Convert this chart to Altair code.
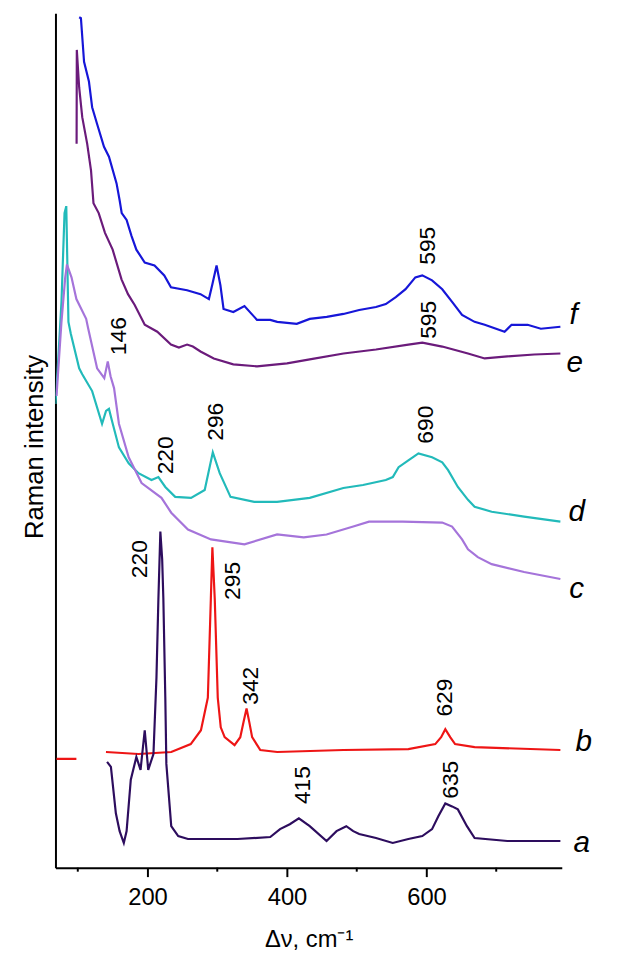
import altair as alt
import pandas as pd

# ---- axis ranges ----
x_domain = [68, 794]
y_domain = [0, 864]

# ---- spectra (Raman shift, intensity in arb. units incl. vertical offset) ----
f_wn = [102, 104.5, 109, 116, 120.6, 127.7, 137.6, 144.7, 155.6, 160, 163, 170, 177, 184, 196, 210, 224, 233.6, 256.7, 276,
        288, 293, 299, 304.5, 309, 323, 339, 357, 376, 386, 414, 432.6, 457, 481, 503.5, 527.6, 541.7, 556, 570, 584,
        594, 608, 622.6, 637, 651, 669, 683.5, 712, 722, 745, 764, 792]
f_int = [860, 859, 815, 795, 769, 752, 729, 719, 692, 675, 662, 655, 639, 625, 612, 609, 599, 587, 584, 580,
         575, 590, 609, 589, 565, 562, 568, 554, 554, 552, 550, 555, 557, 560, 564, 567, 570, 577, 585, 597,
         599, 594, 585, 572, 559, 552, 549, 542, 549, 549, 545, 547]

e_wn = [98.3, 98.6, 102, 106.4, 113.5, 119, 122.5, 130, 139, 150, 162.7, 172, 181.6, 196, 214, 233.6, 245, 256.7, 265, 276,
        295, 323, 357, 400, 432.6, 481, 527.6, 574, 594, 622.6, 659.5, 683.5, 716, 754.5, 792]
e_int = [732, 827, 789, 759, 732, 705, 672, 662, 642, 625, 595, 580, 569, 549, 542, 529, 526, 529, 527, 522,
         515, 509, 507, 510, 514, 520, 524, 529, 531, 527, 520, 515, 517, 519, 520]

d_wn = [68, 71, 76.6, 81, 83.5, 86.6, 90, 102, 106.4, 120.6, 134.8, 140.5, 144.7, 149, 159, 173, 187, 205.7, 215.6, 225.5,
        239.7, 262.4, 282, 293.6, 303.5, 319, 353, 385.8, 432.6, 480.8, 509, 541.7, 551.7, 560, 574, 588.5, 608, 622.6, 631, 645,
        659.5, 669, 693.5, 740, 792]
d_int = [469, 502, 572, 662, 669, 552, 540, 505, 499, 482, 449, 462, 464, 452, 425, 409, 399, 392, 395, 385,
         375, 374, 382, 420, 399, 375, 370, 370, 374, 384, 387, 392, 395, 405, 412, 419, 415, 410, 402, 385,
         372, 365, 360, 355, 350]

c_wn = [69.5, 76.6, 82, 84.5, 91, 98, 112, 115, 127.7, 138, 143, 147, 152, 159, 173, 191.5, 220, 234, 258, 291,
        339, 385.8, 424, 456.7, 495, 517.6, 565.8, 622.6, 636.7, 651, 659.5, 673.6, 693.5, 740, 792]
c_int = [477, 552, 597, 610, 597, 575, 555, 545, 505, 495, 512, 497, 485, 449, 415, 389, 374, 359, 342, 332,
         327, 337, 334, 337, 345, 350, 350, 349, 345, 332, 322, 314, 307, 299, 292]

b_wn = [140.4, 187, 234, 262, 276.6, 282, 286.5, 290.8, 293, 296.4, 300.7, 305, 310.6, 324.8, 333, 337.6, 342, 346, 350, 361.7,
        386, 481, 574, 612.6, 621, 627, 634, 641, 669, 792]
b_int = [117, 115, 117, 125, 139, 157, 172, 272, 324, 272, 172, 142, 132, 124, 132, 147, 161, 147, 132, 119,
         117, 119, 120, 125, 132, 140, 132, 125, 122, 119]

a_wn = [142, 147.5, 154.6, 160, 166, 170, 176, 184, 190, 196, 201, 208.5, 212.8, 215.6, 218.4, 221, 222.7, 225.5, 227, 234,
        244, 258, 329, 376, 390, 404, 417, 432.6, 456.7, 471, 485, 495, 503.5, 527.6, 551.6, 574, 594, 608, 617, 627,
        636.7, 645, 658, 669, 716, 792]
a_int = [107, 102, 55, 37, 25, 37, 89, 112, 99, 139, 99, 115, 192, 272, 340, 312, 272, 172, 105, 42,
         32, 29, 29, 31, 39, 44, 50, 42, 27, 37, 42, 37, 34, 30, 25, 29, 32, 39, 52, 65,
         62, 59, 42, 30, 27, 27]

# baseline marker of spectrum b at the left axis
bdash_wn = [69.5, 98]
bdash_int = [110, 110]

series_names = ["a", "b", "c", "d", "e", "f", "b0"]
series_colors = ["#2D0D5E", "#EE1515", "#A574DA", "#22BABA", "#6B1B7B", "#1616D8", "#EE1515"]
series_data = {
    "f": (f_wn, f_int), "e": (e_wn, e_int), "d": (d_wn, d_int), "c": (c_wn, c_int),
    "b": (b_wn, b_int), "a": (a_wn, a_int), "b0": (bdash_wn, bdash_int),
}

# ---- peak annotations ----
peak_text = ["595", "595", "690", "296", "220", "146", "220", "295", "342", "629", "415", "635"]
peak_wn = [603, 604, 600, 298.5, 226, 159, 189, 322, 348, 627, 423, 635]
peak_int = [629, 554, 448, 451, 417, 537.5, 312, 290, 184, 172, 83.5, 89]

# ---- curve labels ----
lab_text = ["f", "e", "d", "c", "b", "a"]
lab_wn = [811, 812.6, 815.5, 815.5, 825.5, 822.6]
lab_int = [559, 510, 360, 282, 127, 25]

minor_ticks = [100, 300, 500, 700]

rows = []
for name in ["f", "e", "d", "c", "b", "a", "b0"]:
    xs_, ys_ = series_data[name]
    for i, (x, y) in enumerate(zip(xs_, ys_)):
        rows.append({"series": name, "wn": x, "I": y, "idx": i})
df = pd.DataFrame(rows)

xs = alt.Scale(domain=x_domain, nice=False, zero=False)
ys = alt.Scale(domain=y_domain, nice=False, zero=False)

FONT = "Liberation Sans"

lines = alt.Chart(df).mark_line(strokeWidth=2.2, clip=True).encode(
    x=alt.X("wn:Q", scale=xs,
            axis=alt.Axis(values=[200, 400, 600], title="Δν, cm⁻¹", tickSize=9, tickWidth=2,
                          labelPadding=9, titlePadding=19, grid=False)),
    y=alt.Y("I:Q", scale=ys,
            axis=alt.Axis(ticks=False, labels=False, title="Raman intensity", grid=False,
                          titlePadding=8, titleFontSize=26, titleY=438)),
    color=alt.Color("series:N", scale=alt.Scale(domain=series_names, range=series_colors), legend=None),
    detail="series:N",
    order="idx:Q",
)

minor = alt.Chart(pd.DataFrame({"wn": minor_ticks})).mark_rule(color="black", strokeWidth=2).encode(
    x=alt.X("wn:Q", scale=xs),
    y=alt.value(864),
    y2=alt.value(868),
)

peaks = alt.Chart(pd.DataFrame({"wn": peak_wn, "I": peak_int, "t": peak_text})).mark_text(
    angle=270, fontSize=23, font=FONT, color="black", align="center", baseline="middle"
).encode(x=alt.X("wn:Q", scale=xs), y=alt.Y("I:Q", scale=ys), text="t:N")

labels = alt.Chart(pd.DataFrame({"wn": lab_wn, "I": lab_int, "t": lab_text})).mark_text(
    fontSize=30, font=FONT, fontStyle="italic", color="black", align="center", baseline="middle"
).encode(x=alt.X("wn:Q", scale=xs), y=alt.Y("I:Q", scale=ys), text="t:N")

chart = alt.layer(lines, minor, peaks, labels).properties(
    width=512, height=864,
    autosize=alt.AutoSizeParams(type="none"),
    padding={"left": 48, "top": 0, "right": 70, "bottom": 92},
).configure_view(stroke=None).configure_axis(
    labelFont=FONT, titleFont=FONT, labelFontSize=24, titleFontSize=24, titleFontWeight="normal",
    labelColor="black", titleColor="black", domainColor="black", tickColor="black", domainWidth=2,
)

chart.save("out.html", embed_options={"renderer": "svg", "actions": False})
